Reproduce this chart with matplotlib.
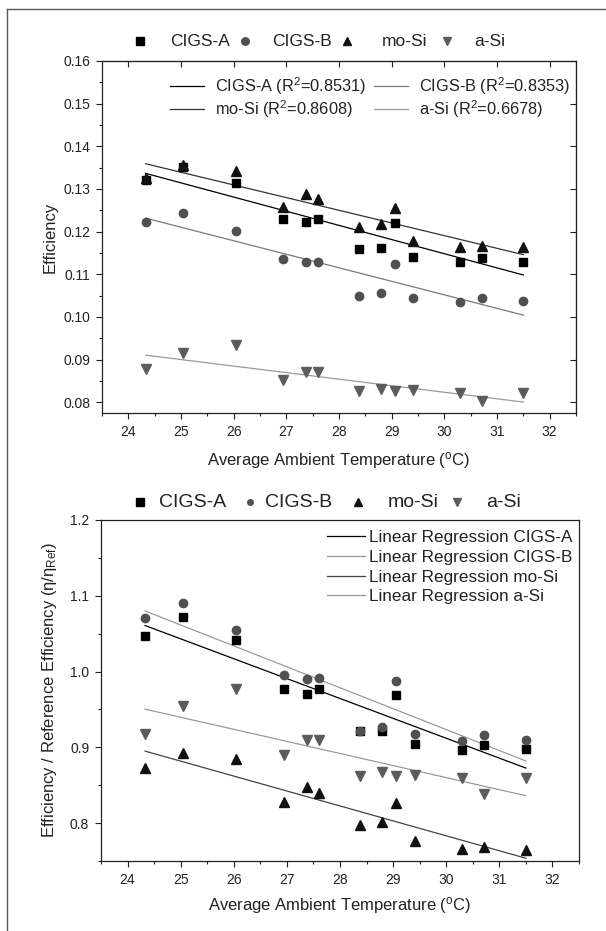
import numpy as np
import matplotlib
matplotlib.use('Agg')
import matplotlib.pyplot as plt
from matplotlib.ticker import MultipleLocator, FormatStrFormatter
from matplotlib.lines import Line2D

plt.rcParams['font.family'] = ['Liberation Sans', 'DejaVu Sans']
plt.rcParams['mathtext.default'] = 'regular'

# ---------------- data ----------------
temps = [24.33, 25.04, 26.04, 26.94, 27.38, 27.61, 28.38, 28.79, 29.06, 29.41, 30.29, 30.72, 31.50]

eff_cigs_a = [0.1320, 0.1351, 0.1313, 0.1230, 0.1222, 0.1230, 0.1159, 0.1161, 0.1220, 0.1140, 0.1128, 0.1138, 0.1130]
eff_cigs_b = [0.1222, 0.1244, 0.1202, 0.1135, 0.1128, 0.1129, 0.1050, 0.1057, 0.1125, 0.1045, 0.1034, 0.1044, 0.1037]
eff_mosi   = [0.1326, 0.1357, 0.1343, 0.1257, 0.1288, 0.1277, 0.1212, 0.1218, 0.1255, 0.1179, 0.1165, 0.1167, 0.1163]
eff_asi    = [0.0879, 0.0915, 0.0935, 0.0853, 0.0871, 0.0871, 0.0826, 0.0832, 0.0826, 0.0828, 0.0822, 0.0803, 0.0822]

norm_cigs_a = [1.047, 1.072, 1.042, 0.977, 0.971, 0.977, 0.921, 0.922, 0.969, 0.904, 0.896, 0.903, 0.898]
norm_cigs_b = [1.071, 1.090, 1.055, 0.996, 0.990, 0.991, 0.922, 0.927, 0.988, 0.917, 0.908, 0.916, 0.910]
norm_mosi   = [0.873, 0.893, 0.884, 0.828, 0.848, 0.840, 0.798, 0.801, 0.826, 0.776, 0.766, 0.768, 0.764]
norm_asi    = [0.917, 0.955, 0.977, 0.890, 0.910, 0.910, 0.862, 0.868, 0.862, 0.864, 0.859, 0.838, 0.859]

series_names = ['CIGS-A', 'CIGS-B', 'mo-Si', 'a-Si']
r2_values = ['0.8531', '0.8353', '0.8608', '0.6678']

x_ticks = [24, 25, 26, 27, 28, 29, 30, 31, 32]

# ---------------- styles ----------------
markers = ['s', 'o', '^', 'v']
marker_colors = ['#000000', '#505050', '#111111', '#5c5c5c']
marker_sizes = [5.5, 6.0, 6.8, 6.8]
top_line_colors = ['#000000', '#7a7a7a', '#333333', '#999999']
bot_line_colors = ['#000000', '#9a9a9a', '#444444', '#9a9a9a']

W, H = 606, 931
fig = plt.figure(figsize=(W / 100, H / 100), dpi=100)


def fx(px):
    return px / W


def fy(py):
    return 1 - py / H


ax1 = fig.add_axes([fx(102), fy(413), (576 - 102) / W, (413 - 61) / H])
ax2 = fig.add_axes([fx(101), fy(861), (579 - 101) / W, (861 - 520) / H])

T = np.array(temps)


def style_axes(ax, ymaj, ymin, fmt, mirror):
    ax.set_xlim(23.5, 32.5)
    ax.set_xticks(x_ticks)
    ax.xaxis.set_minor_locator(MultipleLocator(0.5))
    ax.yaxis.set_major_locator(MultipleLocator(ymaj))
    ax.yaxis.set_minor_locator(MultipleLocator(ymin))
    ax.yaxis.set_major_formatter(FormatStrFormatter(fmt))
    ax.tick_params(which='both', direction='out', width=0.8, colors='#222222',
                   labelcolor='#222222', labelsize=10)
    ax.tick_params(which='major', length=4.5, pad=4)
    ax.tick_params(which='minor', length=2.5)
    for s in ax.spines.values():
        s.set_linewidth(0.9)
        s.set_color('#222222')
    if mirror:
        sx = ax.secondary_xaxis('top')
        sx.set_xticks(x_ticks)
        sx.tick_params(direction='in', length=4, width=0.8, labeltop=False, colors='#222222')
        sy = ax.secondary_yaxis('right')
        sy.yaxis.set_major_locator(MultipleLocator(ymaj))
        sy.tick_params(direction='in', length=4, width=0.8, labelright=False, colors='#222222')


# ---------------- top panel ----------------
eff = [eff_cigs_a, eff_cigs_b, eff_mosi, eff_asi]
line_handles = []
for i, name in enumerate(series_names):
    y = np.array(eff[i])
    ax1.plot(T, y, ls='none', marker=markers[i], ms=marker_sizes[i],
             color=marker_colors[i], mec=marker_colors[i], zorder=3, clip_on=False)
    p = np.polyfit(T, y, 1)
    xs = np.array([T.min(), T.max()])
    h, = ax1.plot(xs, np.polyval(p, xs), color=top_line_colors[i], lw=0.9, zorder=2,
                  label='%s (R$^2$=%s)' % (name, r2_values[i]))
    line_handles.append(h)

ax1.set_ylim(0.0775, 0.16)
style_axes(ax1, 0.01, 0.005, '%.2f', True)
ax1.set_xlabel('Average Ambient Temperature ($^o$C)', fontsize=12, color='#222222')
ax1.set_ylabel('Efficiency', fontsize=12, color='#222222')
ax1.xaxis.set_label_coords(0.5, (413 - 461) / 352)
ax1.xaxis.label.set_va('center')
ax1.yaxis.set_label_coords((50 - 102) / 474, 0.5)
ax1.yaxis.label.set_va('center')

order = [0, 2, 1, 3]
leg1 = ax1.legend([line_handles[k] for k in order], [line_handles[k].get_label() for k in order],
                  ncol=2, fontsize=11.8, frameon=False, loc='upper left',
                  bbox_to_anchor=(fx(170), fy(75)), bbox_transform=fig.transFigure,
                  borderpad=0, borderaxespad=0, handlelength=2.1, handletextpad=0.65,
                  columnspacing=0.45, labelspacing=0.1)
for t in leg1.get_texts():
    t.set_color('#222222')

# ---------------- bottom panel ----------------
norm = [norm_cigs_a, norm_cigs_b, norm_mosi, norm_asi]
line_handles2 = []
for i, name in enumerate(series_names):
    y = np.array(norm[i])
    ax2.plot(T, y, ls='none', marker=markers[i], ms=marker_sizes[i],
             color=marker_colors[i], mec=marker_colors[i], zorder=3, clip_on=False)
    p = np.polyfit(T, y, 1)
    xs = np.array([T.min(), T.max()])
    h, = ax2.plot(xs, np.polyval(p, xs), color=bot_line_colors[i], lw=0.9, zorder=2,
                  label='Linear Regression %s' % name)
    line_handles2.append(h)

ax2.set_ylim(0.75, 1.2)
style_axes(ax2, 0.1, 0.05, '%.1f', False)
ax2.set_xlabel('Average Ambient Temperature ($^o$C)', fontsize=12, color='#222222')
ax2.set_ylabel('Efficiency / Reference Efficiency (η/η$_{Ref}$)', fontsize=12, color='#222222')
ax2.xaxis.set_label_coords(0.5, (861 - 905) / 341)
ax2.xaxis.label.set_va('center')
ax2.yaxis.set_label_coords((50 - 101) / 478, 0.5)
ax2.yaxis.label.set_va('center')

leg2 = ax2.legend(handles=line_handles2, fontsize=12.3, frameon=False, loc='upper left',
                  bbox_to_anchor=(fx(327), fy(530)), bbox_transform=fig.transFigure,
                  borderpad=0, borderaxespad=0, handlelength=2.2, handletextpad=0.25,
                  labelspacing=0.28)
for t in leg2.get_texts():
    t.set_color('#222222')

# ---------------- marker legends above each panel ----------------
def marker_legend(ypix, mxs, txs, sizes, fsize):
    for i, name in enumerate(series_names):
        fig.add_artist(Line2D([fx(mxs[i])], [fy(ypix)], transform=fig.transFigure,
                              ls='none', marker=markers[i], ms=sizes[i],
                              color=marker_colors[i], mec=marker_colors[i]))
        fig.text(fx(txs[i]), fy(ypix), name, fontsize=fsize, va='center', ha='left',
                 color='#222222')


marker_legend(41, [140, 245, 347, 447], [170, 272, 382, 474], [5.2, 5.4, 6.2, 6.2], 12.5)
marker_legend(502, [140, 250, 358, 456.7], [159, 265, 388, 486], [5.6, 4.0, 5.8, 5.8], 14)

# ---------------- outer frame ----------------
fig.add_artist(Line2D([fx(7), fx(7)], [fy(9), 0], transform=fig.transFigure, color='#555555', lw=1))
fig.add_artist(Line2D([fx(7), 1], [fy(9), fy(9)], transform=fig.transFigure, color='#555555', lw=1))

fig.savefig('out.png', dpi=100)
